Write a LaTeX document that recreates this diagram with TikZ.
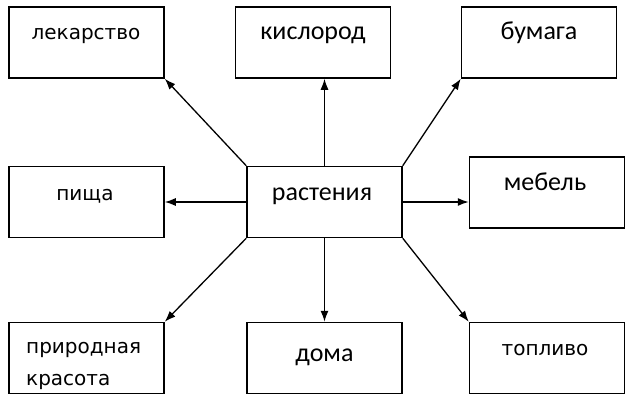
\documentclass[tikz,border=0pt]{standalone}
\usepackage{fontspec}
\setmainfont{DejaVu Sans}
\newfontfamily\clbfont{Carlito}
\usetikzlibrary{arrows.meta}
\begin{document}
\begin{tikzpicture}[x=1pt,y=-1pt,
  box/.style={draw=black, line width=1.5pt, rectangle, minimum width=155pt, minimum height=71pt, inner sep=0pt},
  lbl/.style={anchor=base, inner sep=0pt, font=\fontsize{20}{24}\selectfont},
  clb/.style={anchor=base, inner sep=0pt, font=\clbfont\fontsize{26}{30}\selectfont},
  arr/.style={line width=1.3pt, -{Latex[length=11pt,width=8pt]}}]
\useasboundingbox (0,0) rectangle (638,402);
\node[box] (lek) at (86.5,42.5) {};
\node[box] (kis) at (313,42.5) {};
\node[box] (bum) at (539,42.5) {};
\node[box] (pis) at (86.5,202) {};
\node[box] (ras) at (324.5,202) {};
\node[box] (meb) at (547,192.5) {};
\node[box] (pri) at (86.5,358) {};
\node[box] (dom) at (324.5,358) {};
\node[box] (top) at (547,358) {};
\node[lbl] (tlek) at (86,39) {лекарство};
\node[clb] (tkis) at (313,39) {кислород};
\node[clb] (tbum) at (539,39) {бумага};
\node[lbl] (tpis) at (85,200) {пища};
\node[clb] (tras) at (322,200) {растения};
\node[clb] (tmeb) at (545,190) {мебель};
\node[lbl, anchor=base west] (tpri1) at (26,353) {природная};
\node[lbl, anchor=base west] (tpri2) at (26,385) {красота};
\node[clb] (tdom) at (324.5,361) {дома};
\node[lbl] (ttop) at (545,355) {топливо};
\draw[arr] (ras.north west) -- (lek.south east);
\draw[arr] (ras.north) -- (ras.north |- kis.south);
\draw[arr] (ras.north east) -- (bum.south west);
\draw[arr] (ras.west) -- (pis.east);
\draw[arr] (ras.east) -- (ras.east -| meb.west);
\draw[arr] (ras.south west) -- (pri.north east);
\draw[arr] (ras.south) -- (dom.north);
\draw[arr] (ras.south east) -- (top.north west);
\end{tikzpicture}
\end{document}
